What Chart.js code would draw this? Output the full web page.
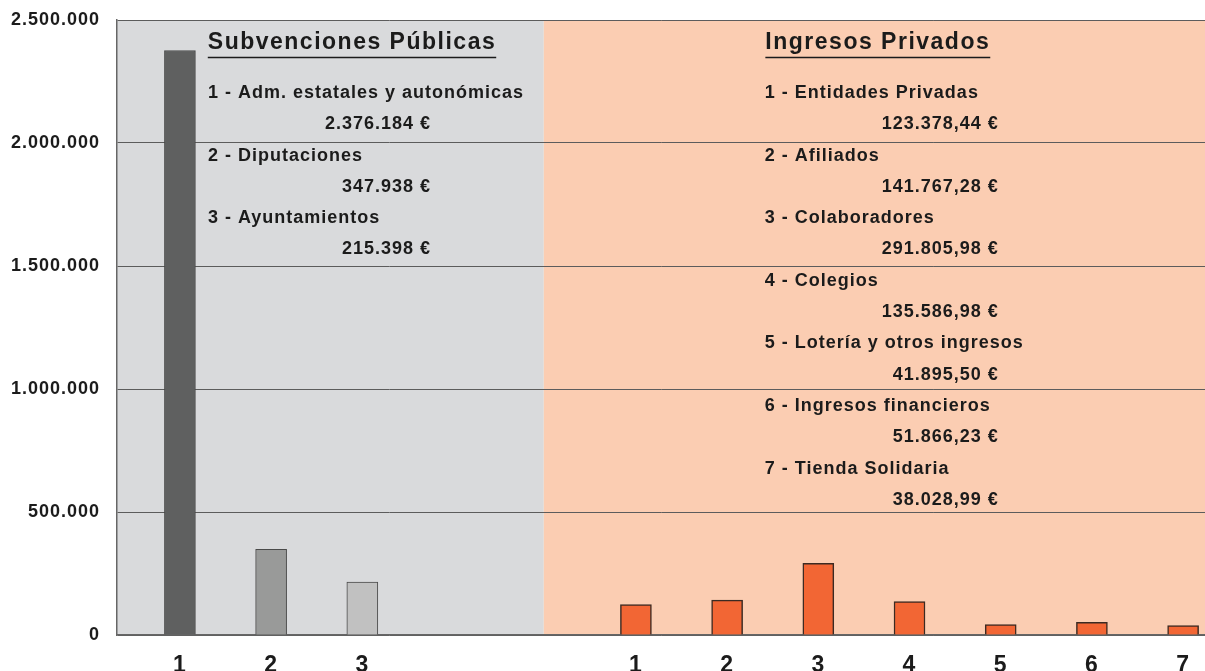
<!DOCTYPE html>
<html>
<head>
<meta charset="utf-8">
<script src="https://cdn.jsdelivr.net/npm/chart.js@4"></script>
<style>
  body { margin: 0; background: #fff; }
  #wrap { width: 1205px; height: 671px; }
</style>
</head>
<body>
<div id="wrap"><canvas id="chart" width="1205" height="671"></canvas></div>
<script>
// public grants
const pubLabels = ['1', '2', '3'];
const pubNames = ['Adm. estatales y autonómicas', 'Diputaciones', 'Ayuntamientos'];
const pubValues = [2376184, 347938, 215398];
const pubColors = ['#5f6060', '#999a99', '#c1c1c1'];

// private income
const privLabels = ['1', '2', '3', '4', '5', '6', '7'];
const privNames = ['Entidades Privadas', 'Afiliados', 'Colaboradores', 'Colegios', 'Lotería y otros ingresos', 'Ingresos financieros', 'Tienda Solidaria'];
const privValues = [123378.44, 141767.28, 291805.98, 135586.98, 41895.50, 51866.23, 38028.99];

const yTicks = [0, 500000, 1000000, 1500000, 2000000, 2500000];
const panelTitles = ['Subvenciones Públicas', 'Ingresos Privados'];

// slot positions on the x axis: two empty slots between the groups
const pubX = pubLabels.map((_, i) => i + 1);
const privX = privLabels.map((_, i) => i + pubLabels.length + 3);
const splitAt = 4.99;

function miles(v, dec) {
  const [i, d] = v.toFixed(dec).split('.');
  return i.replace(/\B(?=(\d{3})+(?!\d))/g, '.') + (d ? ',' + d : '');
}

const TXT = '#1b1b1b';
const FAM = '"Liberation Sans", Arial, sans-serif';

const panels = {
  id: 'panels',
  beforeDraw(chart) {
    const { ctx, chartArea: a, scales: { x } } = chart;
    const xb = x.getPixelForValue(splitAt);
    ctx.save();
    ctx.fillStyle = '#d9dadc';
    ctx.fillRect(a.left, a.top, xb - a.left, a.bottom - a.top);
    ctx.fillStyle = '#fbcdb2';
    ctx.fillRect(xb, a.top, a.right - xb, a.bottom - a.top);
    ctx.restore();
    ctx.letterSpacing = '1px';
  },
  afterDatasetsDraw(chart) {
    const { ctx, chartArea: a, scales: { x } } = chart;
    const xb = x.getPixelForValue(splitAt);
    ctx.save();
    ctx.fillStyle = TXT;
    ctx.strokeStyle = TXT;

    // titles
    ctx.font = 'bold 23px ' + FAM;
    ctx.letterSpacing = '1.5px';
    ctx.textBaseline = 'middle';
    ctx.textAlign = 'center';
    [[a.left + 235, panelTitles[0]], [xb + 334, panelTitles[1]]].forEach(([cx, t]) => {
      ctx.fillText(t, cx, 43);
      const w = ctx.measureText(t).width;
      ctx.lineWidth = 1.5;
      ctx.beginPath();
      ctx.moveTo(cx - w / 2, 57.5);
      ctx.lineTo(cx + w / 2, 57.5);
      ctx.stroke();
    });

    // item lists
    ctx.font = 'bold 18px ' + FAM;
    ctx.letterSpacing = '1px';
    const lh = 31.3;
    const list = (names, amounts, left, right) => {
      names.forEach((n, i) => {
        const y = 93 + i * 2 * lh;
        ctx.textAlign = 'left';
        ctx.fillText((i + 1) + ' - ' + n, left, y);
        ctx.textAlign = 'right';
        ctx.fillText(amounts[i], right, y + lh);
      });
    };
    list(pubNames, pubValues.map(v => miles(v, 0) + ' €'), a.left + 91, a.left + 314);
    list(privNames, privValues.map(v => miles(v, 2) + ' €'), xb + 221, xb + 455);
    ctx.restore();
  }
};

new Chart(document.getElementById('chart'), {
  type: 'bar',
  data: {
    datasets: [
      {
        data: pubValues.map((v, i) => ({ x: pubX[i], y: v })),
        backgroundColor: pubColors,
        borderColor: '#4a4a4a',
        borderWidth: 1,
        barThickness: 31,
        grouped: false
      },
      {
        data: privValues.map((v, i) => ({ x: privX[i], y: v })),
        backgroundColor: '#f26634',
        borderColor: '#3b2a22',
        borderWidth: 1.5,
        barThickness: 31,
        grouped: false
      }
    ]
  },
  options: {
    responsive: false,
    animation: false,
    layout: { padding: { top: 20, right: 0, left: 0, bottom: 0 } },
    plugins: { legend: { display: false }, tooltip: { enabled: false } },
    scales: {
      x: {
        type: 'linear',
        offset: false,
        min: 0.31,
        max: 12.24,
        grid: { display: false, offset: false },
        border: { color: '#666', width: 1.5 },
        afterBuildTicks: s => { s.ticks = pubX.concat(privX).map(v => ({ value: v })); },
        afterFit: s => { s.height = 36; s.paddingLeft = 0; s.paddingRight = 0; },
        ticks: {
          autoSkip: false,
          maxRotation: 0,
          padding: 9,
          color: TXT,
          font: { family: FAM, size: 23, weight: 'bold' },
          callback: v => {
            const i = pubX.indexOf(v);
            if (i >= 0) return pubLabels[i];
            const j = privX.indexOf(v);
            return j >= 0 ? privLabels[j] : '';
          }
        }
      },
      y: {
        min: 0,
        max: 2500000,
        afterBuildTicks: s => { s.ticks = yTicks.map(v => ({ value: v })); },
        afterFit: s => { s.width = 117; s.paddingTop = 0; s.paddingBottom = 0; },
        grid: { color: '#5c5c5c', lineWidth: 1, drawTicks: false },
        border: { color: '#666', width: 1.5 },
        ticks: {
          padding: 17,
          color: TXT,
          font: { family: FAM, size: 18, weight: 'bold' },
          callback: v => miles(v, 0)
        }
      }
    }
  },
  plugins: [panels]
});
</script>
</body>
</html>
